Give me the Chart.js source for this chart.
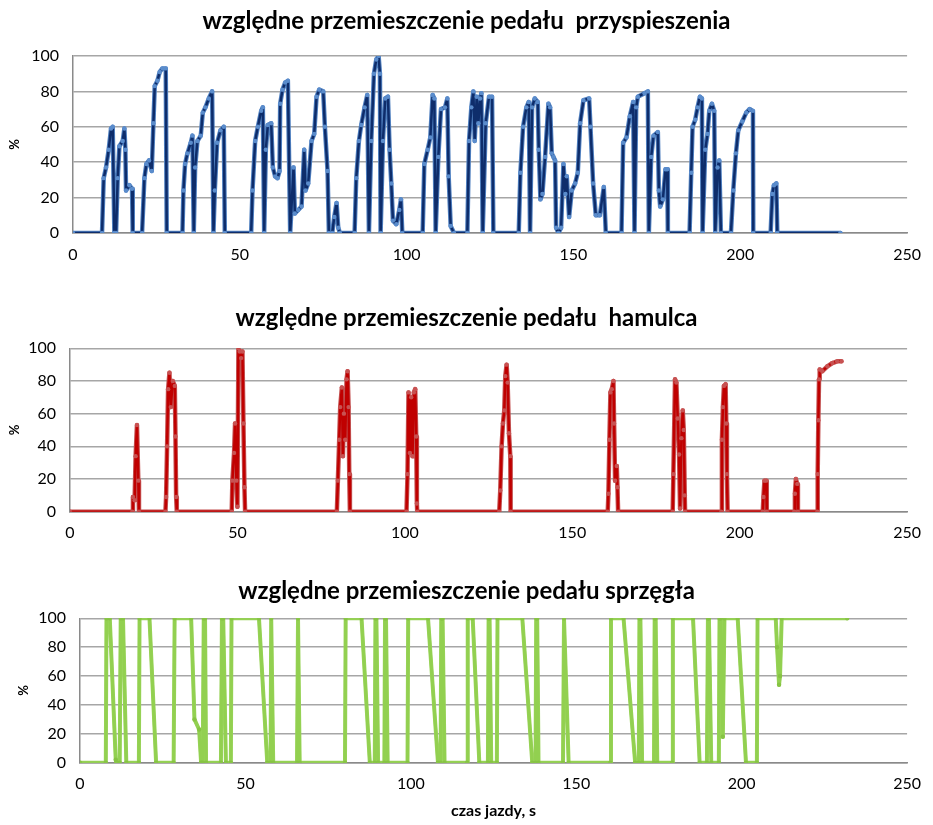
<!DOCTYPE html>
<html lang="pl">
<head>
    <meta charset="UTF-8">
    <title>Względne przemieszczenie pedałów</title>
    <style>
        body {
            margin: 0;
            background: #fff;
            width: 933px;
            height: 825px;
            overflow: hidden;
            position: relative;
            font-family: Lato, sans-serif;
        }
        canvas {
            position: absolute;
            left: 0;
        }
    </style>
    <script src="https://cdn.jsdelivr.net/npm/chart.js"></script>
</head>
<body>
    <canvas id="accelChart" width="933" height="270" style="top:0"></canvas>
    <canvas id="brakeChart" width="933" height="270" style="top:275px"></canvas>
    <canvas id="clutchChart" width="933" height="280" style="top:545px"></canvas>

    <script>
        // pedał przyspieszenia: czas [s] i przemieszczenie [%]
        const accelTime = [
            0, 8.7, 9.2, 9.9, 10.7, 11.4, 11.9, 12.4,
            12.9, 13.4, 13.9, 14.9, 15.4, 15.7, 15.9, 16.9, 17.7, 17.9,
            20.7, 21.4, 22.0, 22.8, 23.6, 24.1, 24.5, 25.3, 26.0, 26.8, 27.8, 28.1,
            32.8, 33.1, 33.6, 34.3, 35.3, 35.8, 36.2,
            36.6, 37.3, 38.3, 38.9, 39.7, 40.7, 41.7, 42.1,
            42.5, 43.2, 44.2, 45.2, 45.5,
            53.4, 53.8, 54.6, 55.4, 56.4, 56.9, 57.3,
            57.8, 58.4, 59.4, 59.9, 60.6, 61.3, 61.9, 62.1, 62.8, 63.6, 64.4, 65.1,
            66.1, 66.5, 67.5, 68.5, 69.3, 69.7, 70.5, 71.5, 72.3, 73.0, 73.8, 75.0, 75.5, 76.3, 76.7,
            77.7, 78.3, 79.0, 79.5, 80.0,
            84.4, 84.9, 85.7, 86.4, 87.4, 88.2, 88.7,
            89.4, 90.2, 90.9, 91.6, 92.0, 92.2,
            92.9, 93.6, 94.4, 94.9, 95.4, 95.9, 96.9, 97.8, 98.3, 98.7,
            104.8, 105.3, 106.3, 107.1, 107.8, 108.3, 108.7,
            109.5, 110.3, 111.5, 112.2, 112.6, 113.2, 114.2,
            118.2, 118.7, 119.4, 120.0, 120.4, 121.0, 121.5, 122.0, 122.4, 122.8,
            123.7, 124.7, 125.6, 126.0,
            133.6, 134.1, 134.9, 135.9, 136.6, 137.0,
            137.6, 138.4, 139.3, 139.6, 140.1, 140.7, 141.5, 142.5, 143.0, 143.5, 144.0, 144.5, 144.8, 145.5,
            146.3, 147.0, 147.6, 148.0, 148.7, 149.5, 150.5, 151.3, 152.0, 153.0, 154.7, 155.1, 155.9, 156.7, 157.9, 159.1, 159.7,
            164.4, 164.9, 165.9, 166.9, 167.9, 168.3,
            168.8, 169.3, 171.3, 172.3, 172.6,
            173.3, 174.0, 175.3, 175.6, 176.0, 176.8, 177.6, 178.1, 178.3,
            184.8, 185.3, 185.7, 186.5, 187.2, 187.9, 188.5, 188.7,
            189.5, 190.2, 190.7, 191.5, 192.2, 192.5,
            193.2, 193.7, 194.2,
            197.2, 197.9, 198.7, 199.4, 200.6, 201.8, 202.8, 203.8, 203.9,
            209.1, 209.6, 210.1, 210.8, 211.1,
            230.0
        ];
        const accelValue = [
            0, 0, 31, 37, 47, 59, 60, 0,
            0, 31, 49, 52, 59, 47, 24, 27, 25, 0,
            0, 31, 39, 41, 35, 62, 83, 86, 91, 93, 93, 0,
            0, 24, 39, 45, 51, 55, 0,
            37, 52, 55, 68, 71, 76, 80, 0,
            24, 51, 58, 60, 0,
            0, 24, 52, 60, 69, 71, 0,
            47, 61, 62, 37, 32, 31, 35, 73, 81, 85, 86, 0,
            37, 11, 13, 15, 47, 24, 28, 52, 56, 77, 81, 80, 60, 35, 0,
            0, 9, 17, 3, 0,
            0, 31, 52, 61, 71, 78, 0,
            52, 90, 98, 100, 90, 0,
            52, 76, 77, 47, 28, 7, 5, 13, 19, 0,
            0, 39, 47, 54, 78, 76, 0,
            43, 70, 71, 76, 32, 4, 0,
            0, 52, 71, 80, 52, 77, 62, 76, 79, 0,
            62, 77, 77, 0,
            0, 34, 60, 71, 74, 0,
            71, 76, 74, 47, 19, 22, 43, 73, 71, 45, 43, 41, 3, 0,
            3, 39, 22, 32, 9, 24, 28, 34, 62, 75, 76, 60, 28, 10, 10, 26, 0,
            0, 51, 54, 66, 74, 0,
            71, 77, 79, 80, 0,
            43, 55, 57, 24, 15, 19, 36, 36, 0,
            0, 34, 60, 64, 71, 77, 76, 0,
            47, 56, 69, 73, 69, 0,
            37, 41, 0,
            0, 24, 45, 58, 63, 68, 70, 69, 0,
            0, 22, 27, 28, 0,
            0
        ];

        // pedał hamulca
        const brakeTime = [
            0, 18.6, 18.8, 19.3, 19.6, 20.0, 20.4, 20.6,
            28.5, 28.7, 29.0, 29.3, 29.7, 30.1, 30.7, 31.3, 31.5, 31.7, 31.9,
            48.3, 48.5, 49.0, 49.3, 49.7, 50.0, 50.3, 50.7, 51.1, 51.5, 51.8, 52.1, 52.3,
            79.7, 80.0, 80.4, 80.7, 81.2, 81.5, 81.8, 82.2, 82.6, 82.9, 83.2, 83.4, 83.6,
            100.5, 100.8, 101.1, 101.5, 101.9, 102.3, 102.7, 103.1, 103.4, 103.6, 103.7,
            128.2, 128.5, 128.9, 129.3, 129.7, 130.0, 130.4, 130.7, 131.1, 131.5, 131.6,
            160.6, 160.8, 161.1, 161.4, 161.8, 162.3, 162.5, 162.8, 163.3, 163.5, 163.7,
            180.0, 180.2, 180.7, 181.1, 181.5, 181.9, 182.2, 182.6, 183.0, 183.3, 183.6, 183.7,
            194.5, 194.7, 195.0, 195.3, 195.8, 196.0, 196.2, 196.4,
            206.9, 207.1, 207.4, 207.9, 208.1,
            216.3, 216.5, 216.8, 217.2, 217.4,
            223.2, 223.3, 223.5, 223.7, 223.9, 224.7, 226.2, 227.7, 229.1, 230.4
        ];
        const brakeValue = [
            0, 0, 9, 7, 34, 53, 19, 0,
            0, 9, 40, 75, 85, 64, 80, 77, 46, 9, 0,
            0, 19, 36, 54, 19, 3, 100, 98, 94, 98, 54, 15, 0,
            0, 19, 44, 64, 76, 34, 60, 44, 81, 86, 64, 23, 0,
            0, 23, 73, 36, 70, 34, 73, 75, 46, 5, 0,
            0, 13, 40, 54, 62, 83, 90, 79, 48, 34, 0,
            0, 11, 44, 73, 75, 80, 54, 19, 28, 15, 0,
            0, 23, 81, 79, 57, 35, 2, 45, 62, 50, 10, 0,
            0, 44, 64, 77, 78, 54, 23, 0,
            0, 9, 19, 19, 0,
            0, 11, 20, 17, 0,
            0, 23, 56, 81, 87, 86, 89, 91, 92, 92
        ];

        // pedał sprzęgła
        const clutchTime = [
            0, 7.8, 8.0, 9.0, 10.8, 11.0,
            12.0, 12.3, 13.0, 14.0,
            17.8, 18.0, 21.0, 23.0,
            28.3, 28.6, 33.6, 34.6, 36.0, 36.6,
            37.1, 37.4, 37.8, 38.1,
            42.6, 42.9, 43.3, 44.1,
            45.6, 45.8, 54.1, 56.6,
            57.6, 57.8, 58.4,
            65.6, 65.9, 66.4,
            80.1, 80.3, 85.1, 87.6,
            89.1, 89.3, 89.6, 90.1,
            92.0, 92.2, 92.5, 93.0,
            99.0, 99.2, 105.2, 108.2,
            109.0, 109.2, 109.6, 110.2,
            117.0, 117.2, 118.7, 120.7,
            123.3, 123.5, 123.8, 124.3,
            126.0, 126.2, 133.7, 136.7,
            137.7, 137.9, 138.2, 138.6,
            146.0, 146.3, 147.7,
            160.3, 160.5, 164.3, 167.8,
            168.9, 169.1, 169.4, 169.9,
            173.5, 173.7, 174.0, 174.5,
            179.0, 179.2, 185.3, 187.3,
            189.5, 189.8, 190.1, 190.8,
            193.1, 193.3, 193.7, 194.3, 194.8, 198.8, 201.3,
            204.6, 204.8, 210.3, 210.7, 211.3, 211.6, 212.1, 231.9
        ];
        const clutchValue = [
            0, 0, 100, 100, 2, 0,
            0, 100, 100, 0,
            0, 100, 100, 0,
            0, 100, 100, 30, 23, 0,
            0, 100, 100, 0,
            0, 100, 100, 0,
            0, 100, 100, 0,
            0, 100, 0,
            0, 100, 0,
            0, 100, 100, 0,
            0, 100, 100, 0,
            0, 100, 100, 0,
            0, 100, 100, 0,
            0, 100, 100, 0,
            0, 100, 100, 0,
            0, 100, 100, 0,
            0, 100, 100, 0,
            0, 100, 100, 0,
            0, 100, 0,
            0, 100, 100, 0,
            0, 100, 100, 0,
            0, 100, 100, 0,
            0, 100, 100, 0,
            0, 100, 100, 0,
            0, 100, 100, 18, 100, 100, 0,
            0, 100, 100, 80, 54, 60, 100, 100
        ];

        const xTicks = [0, 50, 100, 150, 200, 250];
        const yTicks = [0, 20, 40, 60, 80, 100];

        const FONT = 'Lato, "Open Sans", sans-serif';
        const SIDE = 21; // margines lewy/prawy, tytuł wyśrodkowany na całej szerokości

        function toPoints(times, values) {
            return times.map((t, i) => ({ x: t, y: values[i] }));
        }

        // jeden wykres: obszar rysowania przypięty do stałych pikseli
        function makeChart(id, cfg) {
            const canvas = document.getElementById(id);
            const H = canvas.height;
            const points = toPoints(cfg.time, cfg.value);
            return new Chart(canvas, {
                type: 'line',
                data: {
                    datasets: [{
                        data: points,
                        order: 0,
                        borderColor: cfg.line,
                        borderWidth: cfg.lineWidth,
                        borderJoinStyle: 'round',
                        borderCapStyle: 'round',
                        pointRadius: 2.2,
                        pointBackgroundColor: cfg.marker,
                        pointBorderWidth: 0,
                        tension: 0
                    }, {
                        // jasna otoczka jak gęste znaczniki w Excelu
                        data: points,
                        order: 1,
                        borderColor: cfg.halo,
                        borderWidth: cfg.haloWidth,
                        borderJoinStyle: 'round',
                        borderCapStyle: 'round',
                        pointRadius: 0,
                        tension: 0
                    }]
                },
                options: {
                    responsive: false,
                    animation: false,
                    layout: { padding: { left: SIDE, right: SIDE, top: 0, bottom: 0 } },
                    plugins: {
                        legend: { display: false },
                        tooltip: { enabled: false },
                        title: {
                            display: true,
                            text: cfg.title,
                            color: '#000',
                            font: { family: FONT, size: 24, weight: 'bold' },
                            padding: { top: cfg.titleTop, bottom: cfg.area.top - cfg.titleTop - 28.8 }
                        }
                    },
                    scales: {
                        x: {
                            type: 'linear',
                            min: 0,
                            max: 250,
                            afterBuildTicks: s => { s.ticks = xTicks.map(v => ({ value: v })); },
                            afterFit: s => { s.height = H - cfg.area.bottom; },
                            ticks: { color: '#000', padding: 12, font: { family: FONT, size: 16 } },
                            grid: { display: false, drawTicks: false },
                            border: { color: '#8a8a8a', width: 1.5 },
                            title: {
                                display: !!cfg.xTitle,
                                text: cfg.xTitle || '',
                                color: '#000',
                                font: { family: FONT, size: 16, weight: 'bold' },
                                padding: { top: 0, bottom: 5 }
                            }
                        },
                        y: {
                            min: 0,
                            max: 100,
                            afterBuildTicks: s => { s.ticks = yTicks.map(v => ({ value: v })); },
                            afterFit: s => { s.width = cfg.area.left - SIDE; },
                            ticks: { color: '#000', padding: 14, font: { family: FONT, size: 16 } },
                            grid: { color: '#a6a6a6', lineWidth: 1.5, drawTicks: false },
                            border: { color: '#8a8a8a', width: 1.5 },
                            title: {
                                display: true,
                                text: '%',
                                color: '#000',
                                font: { family: FONT, size: 13, weight: 'bold' },
                                padding: { top: cfg.yTitleX - SIDE - 7.8, bottom: 0 }
                            }
                        }
                    }
                }
            });
        }

        makeChart('accelChart', {
            title: 'względne przemieszczenie pedału  przyspieszenia',
            time: accelTime, value: accelValue,
            line: '#0e2d6b', marker: '#5a8ccc', halo: '#4f7fbf',
            lineWidth: 2.5, haloWidth: 4.5,
            area: { left: 73, top: 56, bottom: 233 },
            titleTop: 6.6, yTitleX: 15
        });

        makeChart('brakeChart', {
            title: 'względne przemieszczenie pedału  hamulca',
            time: brakeTime, value: brakeValue,
            line: '#c00000', marker: '#c85252', halo: '#c24f4f',
            lineWidth: 2.5, haloWidth: 4.5,
            area: { left: 70, top: 73.3, bottom: 236.7 },
            titleTop: 28.6, yTitleX: 15
        });

        makeChart('clutchChart', {
            title: 'względne przemieszczenie pedału sprzęgła',
            time: clutchTime, value: clutchValue,
            line: '#92d050', marker: '#86c343', halo: '#9cd45e',
            lineWidth: 3, haloWidth: 4,
            area: { left: 80, top: 73.3, bottom: 217.7 },
            titleTop: 31.6, yTitleX: 24,
            xTitle: 'czas jazdy, s'
        });
    </script>
</body>
</html>
